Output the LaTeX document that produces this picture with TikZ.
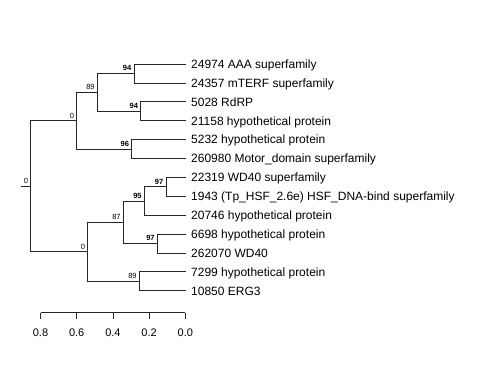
\documentclass[tikz,border=0pt]{standalone}
\usepackage{fontspec}
\setmainfont{Liberation Sans}
\usetikzlibrary{positioning}

\begin{document}
\begin{tikzpicture}[x=1pt,y=-1pt,br/.style={draw=black!85,line width=.7pt},leaf/.style={anchor=west,inner xsep=5pt,inner ysep=0pt,text height=8.6pt,text depth=0pt,font=\fontsize{12}{14}\selectfont},bs/.style={anchor=south east,inner sep=.5pt,text depth=0pt,xshift=-2pt,yshift=2pt,font=\fontsize{7.5}{8}\selectfont},bsb/.style={bs,font=\fontsize{7.5}{8}\selectfont\bfseries},tick/.style={font=\fontsize{11}{13}\selectfont}]
\useasboundingbox (0,0) rectangle (480,384);
% leaves
\node[leaf] (l1) at (186,64) {24974 AAA superfamily};
\node[leaf] (l2) at (186,82.9) {24357 mTERF superfamily};
\node[leaf] (l3) at (186,101.8) {5028 RdRP};
\node[leaf] (l4) at (186,120.7) {21158 hypothetical protein};
\node[leaf] (l5) at (186,139.6) {5232 hypothetical protein};
\node[leaf] (l6) at (186,158.5) {260980 Motor\_domain superfamily};
\node[leaf] (l7) at (186,177.3) {22319 WD40 superfamily};
\node[leaf] (l8) at (186,196.2) {1943 (Tp\_HSF\_2.6e) HSF\_DNA-bind superfamily};
\node[leaf] (l9) at (186,215.1) {20746 hypothetical protein};
\node[leaf] (l10) at (186,234) {6698 hypothetical protein};
\node[leaf] (l11) at (186,252.9) {262070 WD40};
\node[leaf] (l12) at (186,271.8) {7299 hypothetical protein};
\node[leaf] (l13) at (186,290.7) {10850 ERG3};
% internal nodes
\coordinate (nA) at (134,73.4);
\coordinate (nB) at (140.7,111.2);
\coordinate (nC) at (97.3,92.3);
\coordinate (nD) at (131.7,149);
\coordinate (nE) at (76.7,120.7);
\coordinate (nF) at (166,186.8);
\coordinate (nG) at (144.3,201);
\coordinate (nH) at (157.3,243.5);
\coordinate (nI) at (123.3,222.2);
\coordinate (nJ) at (139.3,281.2);
\coordinate (nK) at (87.7,251.7);
\coordinate (root) at (30.7,186.2);
\coordinate (stub) at (20.7,186.2);
% branches
\draw[br] (nA) |- (l1.west); \draw[br] (nA) |- (l2.west);
\draw[br] (nB) |- (l3.west); \draw[br] (nB) |- (l4.west);
\draw[br] (nC) |- (nA); \draw[br] (nC) |- (nB);
\draw[br] (nD) |- (l5.west); \draw[br] (nD) |- (l6.west);
\draw[br] (nE) |- (nC); \draw[br] (nE) |- (nD);
\draw[br] (nF) |- (l7.west); \draw[br] (nF) |- (l8.west);
\draw[br] (nG) |- (nF); \draw[br] (nG) |- (l9.west);
\draw[br] (nH) |- (l10.west); \draw[br] (nH) |- (l11.west);
\draw[br] (nI) |- (nG); \draw[br] (nI) |- (nH);
\draw[br] (nJ) |- (l12.west); \draw[br] (nJ) |- (l13.west);
\draw[br] (nK) |- (nI); \draw[br] (nK) |- (nJ);
\draw[br] (root) |- (nE); \draw[br] (root) |- (nK);
\draw[br] (stub) -- (root);
% support values
\node[bsb] at (nA) {94};
\node[bsb] at (nB) {94};
\node[bs] at (nC) {89};
\node[bsb] at (nD) {96};
\node[bs] at (nE) {0};
\node[bsb] at (nF) {97};
\node[bsb] at (nG) {95};
\node[bsb] at (nH) {97};
\node[bs] at (nI) {87};
\node[bs] at (nJ) {89};
\node[bs] at (nK) {0};
\node[bs] at (root) {0};
% scale axis
\draw[br] (40.5,312.5) -- (185.3,312.5);
\foreach \v/\t in {0.8/0.8,0.6/0.6,0.4/0.4,0.2/0.2,0/0.0} {
  \draw[br] (185.3-\v*181,312.5) -- (185.3-\v*181,318.5);
  \node[tick] at (185.3-\v*181,333) {\t};
}
\end{tikzpicture}
\end{document}
